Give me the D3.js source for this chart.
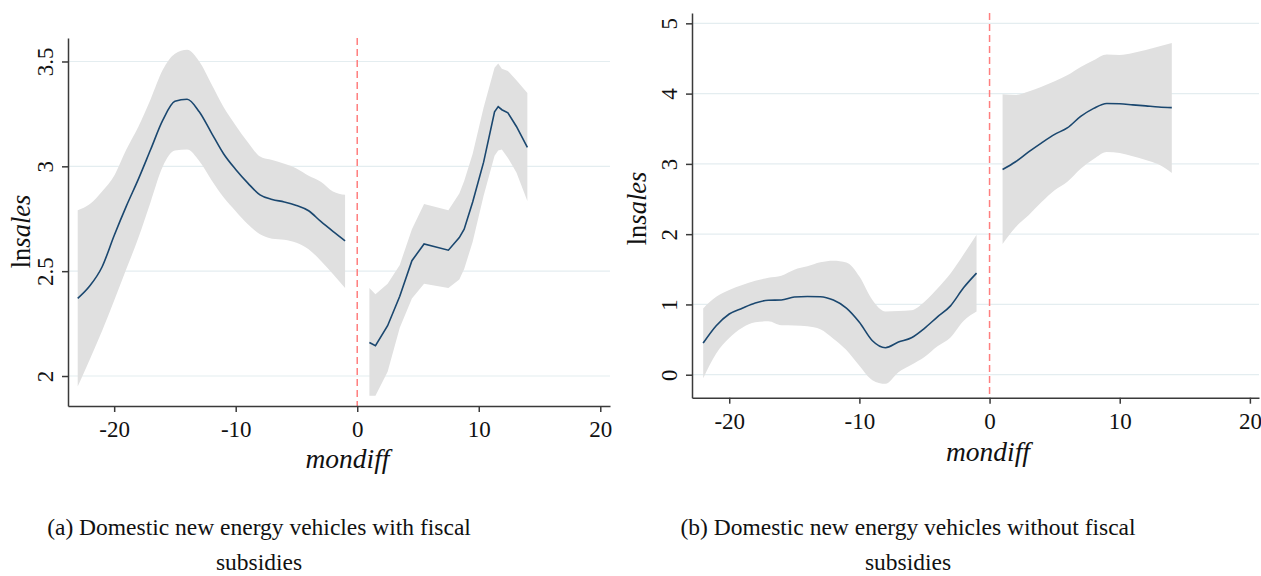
<!DOCTYPE html>
<html>
<head>
<meta charset="utf-8">
<script src="https://cdn.jsdelivr.net/npm/d3@7"></script>
<style>
	body { margin: 0; background: #fff; }
	svg { display: block; }
	svg text { font-family: "Liberation Serif", "Times New Roman", serif; }
</style>
</head>
<body>
<script>
	// DATA //

	// Panel (a): with fiscal subsidies, before the cutoff
	var aPreX = [ -23, -22, -21, -20, -19, -18, -17, -16, -15, -14, -13, -12, -11, -10, -9, -8, -7, -6, -5, -4, -3, -2, -1 ];
	var aPreFit = [ 2.37, 2.43, 2.52, 2.67, 2.81, 2.94, 3.08, 3.22, 3.31, 3.32, 3.26, 3.16, 3.06, 2.985, 2.92, 2.864, 2.842, 2.83, 2.813, 2.788, 2.737, 2.69, 2.645 ];
	var aPreHi = [ 2.79, 2.82, 2.88, 2.955, 3.08, 3.19, 3.32, 3.46, 3.537, 3.556, 3.5, 3.393, 3.283, 3.195, 3.115, 3.047, 3.03, 3.012, 2.99, 2.955, 2.927, 2.88, 2.864 ];
	var aPreLo = [ 1.95, 2.08, 2.215, 2.36, 2.51, 2.66, 2.83, 2.999, 3.075, 3.08, 3.025, 2.935, 2.852, 2.786, 2.724, 2.676, 2.655, 2.65, 2.636, 2.605, 2.55, 2.487, 2.42 ];

	// Panel (a): after the cutoff
	var aPostX = [ 1, 1.5, 2.5, 3.5, 4.5, 5.5, 7.5, 8.4, 8.8, 9.5, 10.4, 11.3, 11.6, 11.9, 12.4, 13.1, 14 ];
	var aPostFit = [ 2.16, 2.145, 2.24, 2.38, 2.55, 2.63, 2.6, 2.66, 2.7, 2.83, 3.02, 3.26, 3.285, 3.27, 3.255, 3.19, 3.09 ];
	var aPostHi = [ 2.42, 2.39, 2.44, 2.53, 2.7, 2.82, 2.79, 2.87, 2.93, 3.06, 3.28, 3.47, 3.49, 3.465, 3.455, 3.41, 3.35 ];
	var aPostLo = [ 1.906, 1.906, 2.02, 2.23, 2.37, 2.44, 2.42, 2.46, 2.51, 2.64, 2.86, 3.05, 3.075, 3.08, 3.04, 2.97, 2.835 ];

	// Panel (b): without fiscal subsidies, before the cutoff
	var bPreX = [ -22, -21, -20, -19, -18, -17, -16, -15, -14, -13, -12, -11, -10, -9, -8, -7, -6, -5, -4, -3, -2, -1 ];
	var bPreFit = [ 0.45, 0.697, 0.864, 0.947, 1.021, 1.06, 1.063, 1.105, 1.112, 1.11, 1.062, 0.949, 0.747, 0.484, 0.384, 0.464, 0.526, 0.66, 0.824, 0.98, 1.236, 1.445 ];
	var bPreHi = [ 0.944, 1.108, 1.207, 1.275, 1.336, 1.38, 1.41, 1.495, 1.542, 1.6, 1.622, 1.597, 1.398, 1.063, 0.9, 0.905, 0.918, 1.04, 1.227, 1.44, 1.71, 1.99 ];
	var bPreLo = [ -0.05, 0.303, 0.521, 0.668, 0.745, 0.76, 0.703, 0.7, 0.688, 0.647, 0.513, 0.352, 0.129, -0.077, -0.13, 0.035, 0.142, 0.252, 0.405, 0.53, 0.766, 0.9 ];

	// Panel (b): after the cutoff
	var bPostX = [ 1, 2, 3, 4, 5, 6, 7, 8, 9, 10, 11, 12, 13, 14 ];
	var bPostFit = [ 2.92, 3.03, 3.17, 3.3, 3.42, 3.515, 3.675, 3.79, 3.86, 3.855, 3.84, 3.825, 3.81, 3.8 ];
	var bPostHi = [ 3.99, 3.98, 4.03, 4.097, 4.176, 4.265, 4.38, 4.475, 4.557, 4.55, 4.578, 4.62, 4.67, 4.72 ];
	var bPostLo = [ 1.86, 2.1, 2.27, 2.458, 2.625, 2.75, 2.93, 3.068, 3.17, 3.155, 3.11, 3.056, 2.99, 2.87 ];

	// Ticks and labels
	var xTicks = [ -20, -10, 0, 10, 20 ];
	var aYTicks = [ 2, 2.5, 3, 3.5 ];
	var bYTicks = [ 0, 1, 2, 3, 4, 5 ];
	var aCaption = [ '(a) Domestic new energy vehicles with fiscal', 'subsidies' ];
	var bCaption = [ '(b) Domestic new energy vehicles without fiscal', 'subsidies' ];


	// LAYOUT //

	// Zip one segment's columns into rows:
	function seg( xs, fit, hi, lo ) {
		return xs.map( function ( x, i ) {
			return { x: x, fit: fit[ i ], hi: hi[ i ], lo: lo[ i ] };
		});
	}

	var panels = [
		{
			left: 68, right: 610, top: 38, bottom: 406,
			xDomain: [ -23.8, 20.8 ], yDomain: [ 1.857, 3.612 ],
			yTicks: aYTicks,
			segments: [
				{ data: seg( aPreX, aPreFit, aPreHi, aPreLo ), curve: d3.curveMonotoneX },
				{ data: seg( aPostX, aPostFit, aPostHi, aPostLo ), curve: d3.curveLinear }
			],
			yLab: [ 30, 231.5 ], xLab: [ 347.5, 468 ],
			caption: aCaption, capX: 259
		},
		{
			left: 692, right: 1259, top: 13, bottom: 397.7,
			xDomain: [ -22.86, 20.7 ], yDomain: [ -0.327, 5.147 ],
			yTicks: bYTicks,
			segments: [
				{ data: seg( bPreX, bPreFit, bPreHi, bPreLo ), curve: d3.curveMonotoneX },
				{ data: seg( bPostX, bPostFit, bPostHi, bPostLo ), curve: d3.curveMonotoneX }
			],
			yLab: [ 646, 208.5 ], xLab: [ 988, 461 ],
			caption: bCaption, capX: 908
		}
	];


	// DRAW //

	var svg = d3.select( 'body' ).append( 'svg' )
		.attr( 'width', 1261 )
		.attr( 'height', 576 );

	svg.append( 'rect' )
		.attr( 'width', 1261 )
		.attr( 'height', 576 )
		.attr( 'fill', '#fff' );

	panels.forEach( function ( p ) {
		var x = d3.scaleLinear().domain( p.xDomain ).range([ p.left, p.right ]),
			y = d3.scaleLinear().domain( p.yDomain ).range([ p.bottom, p.top ]),
			g = svg.append( 'g' );

		// Horizontal grid lines:
		g.selectAll( 'line.grid' )
			.data( p.yTicks )
		  .enter().append( 'line' )
			.attr( 'class', 'grid' )
			.attr( 'x1', p.left )
			.attr( 'x2', p.right )
			.attr( 'y1', function ( d ) { return y( d ); })
			.attr( 'y2', function ( d ) { return y( d ); })
			.attr( 'stroke', '#e4edf0' )
			.attr( 'stroke-width', 1.2 );

		// Confidence bands and fitted lines:
		p.segments.forEach( function ( s ) {
			var area = d3.area()
				.x( function ( d ) { return x( d.x ); })
				.y0( function ( d ) { return y( d.lo ); })
				.y1( function ( d ) { return y( d.hi ); })
				.curve( s.curve );
			var line = d3.line()
				.x( function ( d ) { return x( d.x ); })
				.y( function ( d ) { return y( d.fit ); })
				.curve( s.curve );

			g.append( 'path' )
				.attr( 'd', area( s.data ) )
				.attr( 'fill', '#e0e0e0' );
			g.append( 'path' )
				.attr( 'd', line( s.data ) )
				.attr( 'fill', 'none' )
				.attr( 'stroke', '#1a476f' )
				.attr( 'stroke-width', 1.6 );
		});

		// Cutoff line:
		g.append( 'line' )
			.attr( 'x1', x( 0 ) )
			.attr( 'x2', x( 0 ) )
			.attr( 'y1', p.top )
			.attr( 'y2', p.bottom )
			.attr( 'stroke', '#ff7f7f' )
			.attr( 'stroke-width', 1.5 )
			.attr( 'stroke-dasharray', '7,4' );

		// Axes:
		var yAxis = g.append( 'g' )
			.attr( 'transform', 'translate(' + p.left + ',0)' )
			.call( d3.axisLeft( y ).tickValues( p.yTicks ).tickSize( 6 ).tickSizeOuter( 0 )
				.tickFormat( function ( d ) { return String( d ); }) );
		yAxis.selectAll( 'text' )
			.attr( 'x', null )
			.attr( 'dy', null )
			.attr( 'text-anchor', 'middle' )
			.attr( 'transform', 'translate(-15,0) rotate(-90)' );

		var xAxis = g.append( 'g' )
			.attr( 'transform', 'translate(0,' + p.bottom + ')' )
			.call( d3.axisBottom( x ).tickValues( xTicks ).tickSize( 6 ).tickSizeOuter( 0 ).tickPadding( 9 )
				.tickFormat( function ( d ) { return String( d ); }) );

		[ yAxis, xAxis ].forEach( function ( a ) {
			a.attr( 'font-family', null ).attr( 'font-size', null );
			a.selectAll( 'path, line' ).attr( 'stroke', '#3a3a3a' ).attr( 'stroke-width', 1.5 );
			a.selectAll( 'text' )
				.attr( 'fill', '#111' )
				.style( 'font-size', '23px' );
		});

		// Axis titles:
		var yl = g.append( 'text' )
			.attr( 'transform', 'translate(' + p.yLab[ 0 ] + ',' + p.yLab[ 1 ] + ') rotate(-90)' )
			.attr( 'text-anchor', 'middle' )
			.style( 'font-size', '26.5px' )
			.attr( 'fill', '#111' );
		yl.append( 'tspan' ).text( 'ln' );
		yl.append( 'tspan' ).style( 'font-style', 'italic' ).text( 'sales' );

		g.append( 'text' )
			.attr( 'x', p.xLab[ 0 ] )
			.attr( 'y', p.xLab[ 1 ] )
			.attr( 'text-anchor', 'middle' )
			.style( 'font-size', '27.5px' )
			.style( 'font-style', 'italic' )
			.attr( 'fill', '#111' )
			.text( 'mondiff' );

		// Caption:
		g.selectAll( 'text.cap' )
			.data( p.caption )
		  .enter().append( 'text' )
			.attr( 'class', 'cap' )
			.attr( 'x', p.capX )
			.attr( 'y', function ( d, i ) { return 535 + i*35; })
			.attr( 'text-anchor', 'middle' )
			.style( 'font-size', '23.5px' )
			.attr( 'fill', '#111' )
			.text( function ( d ) { return d; });
	});
</script>
</body>
</html>
